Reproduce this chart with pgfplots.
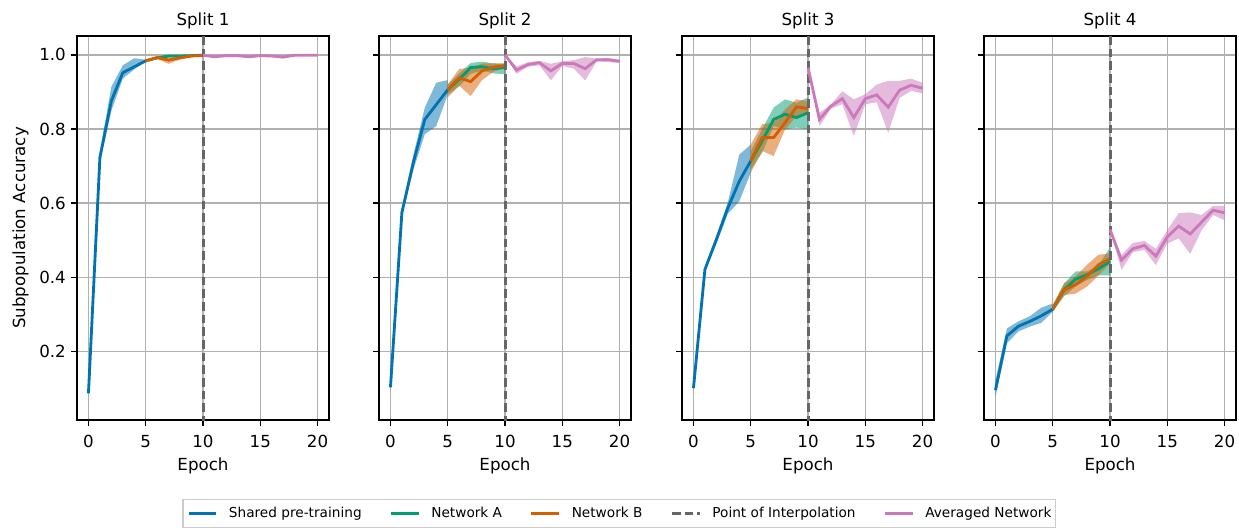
\documentclass[border=0pt]{standalone}
\usepackage{fontspec}
\setmainfont{DejaVu Sans}
\usepackage{pgfplots}
\pgfplotsset{compat=1.18}
\usepackage{pgfplotstable}
\usepgfplotslibrary{fillbetween}

\definecolor{cbblue}{RGB}{1,115,178}
\definecolor{cbgreen}{RGB}{2,158,115}
\definecolor{cborange}{RGB}{213,94,0}
\definecolor{cbpink}{RGB}{204,120,188}
\definecolor{gridgray}{RGB}{176,176,176}
\definecolor{vgray}{RGB}{102,102,102}
\definecolor{leggray}{RGB}{204,204,204}

% ---------------- Split 1 ----------------
\pgfplotstableread{
x m lo hi
0 0.087 0.087 0.087
1 0.723 0.710 0.740
2 0.876 0.849 0.914
3 0.952 0.936 0.972
4 0.968 0.961 0.991
5 0.984 0.982 0.987
}\oneBlue
\pgfplotstableread{
x m lo hi
5 0.984 0.982 0.987
6 0.992 0.989 0.995
7 0.997 0.995 0.999
8 0.997 0.995 0.999
9 0.998 0.996 0.999
10 0.999 0.998 1.000
}\oneGreen
\pgfplotstableread{
x m lo hi
5 0.984 0.982 0.987
6 0.993 0.989 0.996
7 0.986 0.976 0.995
8 0.992 0.988 0.996
9 0.997 0.995 0.999
10 0.999 0.998 1.000
}\oneOrange
\pgfplotstableread{
x m lo hi
10 0.999 0.998 1.000
11 0.995 0.993 0.997
12 0.998 0.997 0.999
13 0.998 0.997 0.999
14 0.995 0.993 0.997
15 0.998 0.997 0.999
16 0.997 0.996 0.998
17 0.994 0.991 0.997
18 0.999 0.998 1.000
19 0.999 0.998 1.000
20 0.999 0.998 1.000
}\onePink
% ---------------- Split 2 ----------------
\pgfplotstableread{
x m lo hi
0 0.103 0.103 0.103
1 0.575 0.565 0.585
2 0.710 0.690 0.730
3 0.826 0.786 0.858
4 0.866 0.808 0.925
5 0.906 0.893 0.932
}\twoBlue
\pgfplotstableread{
x m lo hi
5 0.906 0.893 0.920
6 0.934 0.915 0.950
7 0.966 0.949 0.978
8 0.968 0.958 0.982
9 0.963 0.950 0.977
10 0.966 0.948 0.976
}\twoGreen
\pgfplotstableread{
x m lo hi
5 0.906 0.885 0.920
6 0.938 0.917 0.962
7 0.928 0.889 0.965
8 0.957 0.932 0.977
9 0.967 0.955 0.977
10 0.971 0.963 0.977
}\twoOrange
\pgfplotstableread{
x m lo hi
10 1.000 1.000 1.000
11 0.959 0.949 0.969
12 0.974 0.968 0.980
13 0.979 0.972 0.984
14 0.957 0.931 0.976
15 0.977 0.970 0.983
16 0.977 0.963 0.986
17 0.963 0.931 0.994
18 0.987 0.982 0.990
19 0.987 0.981 0.992
20 0.983 0.978 0.986
}\twoPink
% ---------------- Split 3 ----------------
\pgfplotstableread{
x m lo hi
0 0.101 0.101 0.101
1 0.421 0.415 0.428
2 0.502 0.490 0.512
3 0.587 0.571 0.602
4 0.659 0.605 0.731
5 0.714 0.682 0.758
}\threeBlue
\pgfplotstableread{
x m lo hi
5 0.714 0.690 0.740
6 0.768 0.736 0.800
7 0.826 0.808 0.858
8 0.840 0.799 0.880
9 0.831 0.804 0.871
10 0.844 0.799 0.885
}\threeGreen
\pgfplotstableread{
x m lo hi
5 0.714 0.682 0.758
6 0.777 0.741 0.813
7 0.777 0.727 0.817
8 0.817 0.799 0.853
9 0.860 0.834 0.880
10 0.855 0.839 0.875
}\threeOrange
\pgfplotstableread{
x m lo hi
10 0.966 0.966 0.966
11 0.826 0.808 0.844
12 0.862 0.855 0.866
13 0.882 0.867 0.902
14 0.831 0.781 0.880
15 0.882 0.867 0.894
16 0.892 0.872 0.920
17 0.859 0.790 0.930
18 0.905 0.884 0.930
19 0.918 0.903 0.936
20 0.910 0.896 0.925
}\threePink
% ---------------- Split 4 ----------------
\pgfplotstableread{
x m lo hi
0 0.096 0.077 0.122
1 0.242 0.222 0.262
2 0.268 0.254 0.281
3 0.281 0.267 0.295
4 0.296 0.277 0.318
5 0.314 0.307 0.329
}\fourBlue
\pgfplotstableread{
x m lo hi
5 0.314 0.307 0.325
6 0.367 0.349 0.384
7 0.395 0.376 0.416
8 0.407 0.393 0.416
9 0.423 0.405 0.432
10 0.443 0.405 0.481
}\fourGreen
\pgfplotstableread{
x m lo hi
5 0.314 0.307 0.325
6 0.367 0.352 0.384
7 0.380 0.356 0.403
8 0.403 0.375 0.434
9 0.434 0.405 0.461
10 0.450 0.437 0.464
}\fourOrange
\pgfplotstableread{
x m lo hi
10 0.529 0.529 0.529
11 0.446 0.420 0.460
12 0.477 0.468 0.493
13 0.486 0.474 0.498
14 0.457 0.433 0.477
15 0.509 0.491 0.527
16 0.538 0.505 0.573
17 0.517 0.463 0.575
18 0.549 0.527 0.568
19 0.581 0.568 0.593
20 0.574 0.554 0.593
}\fourPink

% band + mean line: #1 table, #2 colour, #3 unique name
\newcommand{\band}[3]{%
  \addplot[name path=#3hi, draw=none, forget plot] table[x=x,y=hi]{#1};
  \addplot[name path=#3lo, draw=none, forget plot] table[x=x,y=lo]{#1};
  \addplot[fill=#2, fill opacity=0.5, draw=none, forget plot] fill between[of=#3hi and #3lo];
}
\newcommand{\meanline}[2]{%
  \addplot[#2, line width=1.7pt] table[x=x,y=m]{#1};
}
\newcommand{\panelcontent}[5]{%
  \band{#1}{cbblue}{#5a}
  \meanline{#1}{cbblue}
  \band{#2}{cbgreen}{#5b}
  \meanline{#2}{cbgreen}
  \band{#3}{cborange}{#5c}
  \meanline{#3}{cborange}
  \addplot[vgray, line width=1.8pt, dash pattern=on 5.2pt off 2.4pt] coordinates {(10,-0.1) (10,1.2)};
  \band{#4}{cbpink}{#5d}
  \meanline{#4}{cbpink}
}

\pgfplotsset{
  panel/.style={
    scale only axis, width=151.2pt, height=230.4pt,
    anchor=south west,
    xmin=-1, xmax=21, ymin=0.015, ymax=1.051,
    xtick={0,5,10,15,20}, ytick={0.2,0.4,0.6,0.8,1.0},
    grid=major, grid style={color=gridgray, line width=0.8pt},
    axis line style={line width=0.8pt},
    tick align=outside, xtick pos=bottom, ytick pos=left,
    major tick length=3.5pt, tick style={line width=0.8pt, black},
    /pgf/number format/assume math mode=true,
    ticklabel style={font=\fontsize{10}{12}\selectfont},
    xticklabel style={anchor=north, inner sep=0pt, yshift=-5.3pt},
    yticklabel style={anchor=east, inner sep=0pt, xshift=-3pt, /pgf/number format/.cd, fixed, fixed zerofill, precision=1},
    every axis title shift=0pt,
    title style={at={(axis description cs:0.5,1)}, anchor=base, yshift=6.3pt, font=\fontsize{10}{12}\selectfont},
    xlabel={Epoch},
    every axis x label/.style={at={(axis description cs:0.5,0)}, anchor=base, yshift=-30pt, font=\fontsize{10}{12}\selectfont},
    every axis y label/.style={at={(axis description cs:0,0.5)}, xshift=-33.9pt, anchor=center, rotate=90, font=\fontsize{10}{12}\selectfont},
    legend image code/.code={\draw[##1] (0pt,0pt) -- (16.7pt,0pt);},
  },
}

\begin{document}
\begin{tikzpicture}
\begin{axis}[panel, at={(46.2pt,64.2pt)}, title={Split 1}, ylabel={Subpopulation Accuracy},
  legend columns=5,
  legend style={at={(2.152,-0.2435)}, anchor=center, draw=leggray, line width=0.8pt,
    font=\fontsize{8.2}{10}\selectfont, inner xsep=2.5pt, inner ysep=2.5pt,
    nodes={inner xsep=0pt},
    /tikz/every odd column/.append style={column sep=6.7pt},
    /tikz/every even column/.append style={column sep=16.7pt}},
  ]
\panelcontent{\oneBlue}{\oneGreen}{\oneOrange}{\onePink}{p1}
\legend{Shared pre-training, Network A, Network B, Point of Interpolation, Averaged Network}
\end{axis}
\begin{axis}[panel, at={(227.4pt,64.2pt)}, title={Split 2}, yticklabels={}]
\panelcontent{\twoBlue}{\twoGreen}{\twoOrange}{\twoPink}{p2}
\end{axis}
\begin{axis}[panel, at={(409.2pt,64.2pt)}, title={Split 3}, yticklabels={}]
\panelcontent{\threeBlue}{\threeGreen}{\threeOrange}{\threePink}{p3}
\end{axis}
\begin{axis}[panel, at={(590.4pt,64.2pt)}, title={Split 4}, yticklabels={}]
\panelcontent{\fourBlue}{\fourGreen}{\fourOrange}{\fourPink}{p4}
\end{axis}
\pgfresetboundingbox
\path (0,0) rectangle (743.4pt,316.2pt);
\end{tikzpicture}
\end{document}
